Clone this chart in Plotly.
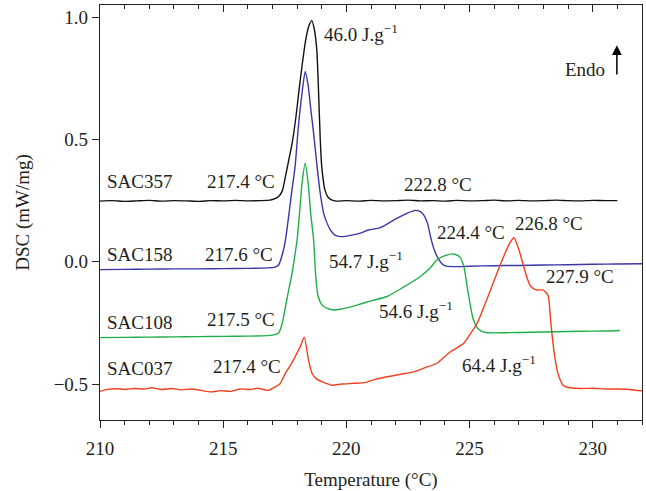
import plotly.graph_objects as go

# ---------------- data ----------------
sac357_x = [210, 210.5, 211, 211.5, 212, 212.5, 213, 213.5, 214, 214.5, 215, 215.5, 216, 216.5,
            216.9, 217.1, 217.25, 217.4, 217.53, 217.65, 217.8, 217.95, 218.08, 218.2, 218.35,
            218.48, 218.6, 218.7, 218.8, 218.87, 218.94, 219.0, 219.13, 219.25, 219.4, 219.6,
            220, 220.5, 221, 221.5, 222, 222.5, 223, 223.5, 224, 224.5, 225, 225.5, 226, 226.5,
            227, 227.5, 228, 228.5, 229, 229.5, 230, 230.5, 231]
sac357_y = [0.248, 0.250, 0.247, 0.249, 0.251, 0.248, 0.250, 0.249, 0.247, 0.250, 0.249, 0.251, 0.249, 0.250,
            0.252, 0.258, 0.267, 0.29, 0.35, 0.41, 0.485, 0.59, 0.703, 0.80, 0.907,
            0.965, 0.986, 0.95, 0.866, 0.70, 0.50, 0.39, 0.294, 0.265, 0.253, 0.248,
            0.250, 0.248, 0.251, 0.249, 0.250, 0.252, 0.249, 0.250, 0.248, 0.251, 0.249, 0.250, 0.252, 0.249,
            0.251, 0.249, 0.250, 0.252, 0.250, 0.249, 0.251, 0.250, 0.250]

sac158_x = [210, 211, 212, 213, 214, 215, 216, 216.8, 217.1, 217.25, 217.4, 217.53, 217.7, 217.8,
            217.92, 218.05, 218.2, 218.33, 218.45, 218.55, 218.67, 218.8, 218.94, 219.1, 219.35,
            219.55, 219.76, 220.0, 220.5, 220.9, 221.38, 222.0, 222.5, 222.8, 223.0, 223.15, 223.3,
            223.4, 223.5, 223.6, 223.75, 223.9, 224.05, 224.5, 225, 226, 227, 228, 229, 230, 231, 232]
sac158_y = [-0.032, -0.031, -0.030, -0.029, -0.029, -0.028, -0.027, -0.025, -0.022, -0.013, 0.03, 0.09, 0.22, 0.30,
            0.39, 0.55, 0.69, 0.778, 0.72, 0.63, 0.526, 0.40, 0.28, 0.19, 0.13,
            0.108, 0.103, 0.105, 0.115, 0.13, 0.140, 0.175, 0.200, 0.210, 0.205, 0.19, 0.155,
            0.11, 0.07, 0.04, 0.01, -0.01, -0.018, -0.020, -0.018, -0.016, -0.015, -0.013, -0.012, -0.010, -0.009, -0.008]

sac108_x = [210, 211, 212, 213, 214, 215, 216, 216.8, 217.1, 217.26, 217.4, 217.53, 217.65, 217.8,
            217.9, 218.0, 218.1, 218.2, 218.33, 218.45, 218.55, 218.67, 218.75, 218.85, 219.0,
            219.2, 219.48, 219.8, 220.5, 221.0, 221.65, 222.3, 223.0, 223.4, 223.68, 224.0, 224.36,
            224.6, 224.77, 224.9, 225.04, 225.15, 225.31, 225.5, 225.71, 226.5, 227.5, 228.5, 229.5, 230.5, 231.1]
sac108_y = [-0.310, -0.309, -0.308, -0.307, -0.306, -0.305, -0.304, -0.302, -0.298, -0.29, -0.25, -0.183, -0.12, -0.045,
            0.02, 0.09, 0.20, 0.32, 0.403, 0.32, 0.20, 0.09, -0.05, -0.14, -0.175,
            -0.19, -0.197, -0.193, -0.175, -0.16, -0.142, -0.105, -0.06, -0.025, 0.008, 0.025, 0.032,
            0.02, -0.02, -0.10, -0.183, -0.235, -0.27, -0.285, -0.290, -0.290, -0.288, -0.286, -0.284, -0.283, -0.281]

sac037_x = [210, 210.3, 210.7, 211, 211.4, 211.8, 212.1, 212.5, 212.9, 213.3, 213.7, 214.1, 214.5, 214.9,
            215.3, 215.7, 216.1, 216.4, 216.8, 217.0, 217.3, 217.53, 217.75, 217.92, 218.13, 218.29,
            218.46, 218.6, 218.8, 219.0, 219.4, 219.8, 220.3, 220.8, 221.2, 221.65, 222.2, 222.74,
            223.2, 223.68, 224.2, 224.77, 225.0, 225.31, 225.6, 225.85, 226.1, 226.33, 226.6, 226.8,
            227.0, 227.2, 227.35, 227.48, 227.7, 227.95, 228.1, 228.2, 228.3, 228.42, 228.55, 228.63,
            228.8, 228.97, 229.5, 230, 230.5, 231, 231.5, 232]
sac037_y = [-0.530, -0.522, -0.519, -0.522, -0.518, -0.520, -0.515, -0.522, -0.518, -0.524, -0.520, -0.526, -0.532, -0.527,
            -0.530, -0.520, -0.522, -0.517, -0.526, -0.518, -0.50, -0.455, -0.42, -0.388, -0.347, -0.308,
            -0.40, -0.455, -0.48, -0.49, -0.505, -0.50, -0.497, -0.493, -0.48, -0.47, -0.46, -0.45,
            -0.433, -0.415, -0.37, -0.333, -0.30, -0.251, -0.18, -0.115, -0.05, 0.008, 0.07, 0.098,
            0.05, -0.02, -0.07, -0.10, -0.115, -0.115, -0.125, -0.142, -0.25, -0.36, -0.44, -0.47,
            -0.505, -0.513, -0.518, -0.517, -0.520, -0.520, -0.522, -0.528]

series_names = ["SAC357", "SAC158", "SAC108", "SAC037"]
series_colors = ["#111111", "#3a36a6", "#1faf48", "#f0401f"]

x_ticks = [210, 215, 220, 225, 230]
y_ticks = [-0.5, 0.0, 0.5, 1.0]
y_tick_text = ["−0.5", "0.0", "0.5", "1.0"]

FONT = "Liberation Serif"
FS = 19
TXT = "#231f20"

fig = go.Figure()
for name, xs, ys, col in zip(series_names,
                             [sac357_x, sac158_x, sac108_x, sac037_x],
                             [sac357_y, sac158_y, sac108_y, sac037_y],
                             series_colors):
    fig.add_trace(go.Scatter(x=xs, y=ys, mode="lines", name=name,
                             line=dict(color=col, width=1.4, shape="spline", smoothing=0.6),
                             hoverinfo="skip", showlegend=False))

# dummy trace to activate the top (inside-tick) axis
fig.add_trace(go.Scatter(x=[210], y=[0], xaxis="x2", yaxis="y", mode="markers",
                         marker=dict(opacity=0), hoverinfo="skip", showlegend=False))

def ann(text, x, y, xanchor="left"):
    fig.add_annotation(x=x, y=y, text=text, showarrow=False, xanchor=xanchor, yanchor="middle",
                       font=dict(family=FONT, size=FS, color=TXT))

sup = "J.g<sup>−1</sup>"
ann("46.0 " + sup, 219.01, 0.935)
ann("SAC357", 210.22, 0.327)
ann("217.4 °C", 217.19, 0.327, "right")
ann("222.8 °C", 223.72, 0.318, "center")
ann("SAC158", 210.22, 0.028)
ann("217.6 °C", 217.10, 0.028, "right")
ann("224.4 °C", 223.60, 0.118)
ann("226.8 °C", 226.76, 0.155)
ann("54.7 " + sup, 219.20, 0.008)
ann("227.9 °C", 228.04, -0.06)
ann("SAC108", 210.22, -0.249)
ann("217.5 °C", 217.19, -0.238, "right")
ann("54.6 " + sup, 221.23, -0.197)
ann("SAC037", 210.22, -0.435)
ann("217.4 °C", 217.43, -0.430, "right")
ann("64.4 " + sup, 224.62, -0.416)
ann("Endo", 228.80, 0.785)
fig.add_annotation(x=230.98, y=0.885, ax=230.98, ay=0.76, xref="x", yref="y", axref="x", ayref="y",
                   text="", showarrow=True, arrowhead=2, arrowsize=1.3, arrowwidth=1.5, arrowcolor="#000")

axis_common = dict(showgrid=False, zeroline=False, linecolor="#222", linewidth=1.2,
                   tickcolor="#222", tickfont=dict(family=FONT, size=FS, color=TXT))

fig.update_layout(
    width=646, height=491,
    margin=dict(l=100, r=4, t=5, b=71),
    paper_bgcolor="white", plot_bgcolor="white",
    font=dict(family=FONT, size=FS, color=TXT),
    xaxis=dict(range=[210, 232], tickvals=x_ticks, ticks="outside", ticklen=7, tickwidth=1.2,
               showline=True, mirror=True, ticklabelstandoff=4,
               minor=dict(dtick=1, tick0=210, ticks="outside", ticklen=4, tickcolor="#222", tickwidth=1),
               title=dict(text="Temperature (°C)", font=dict(family=FONT, size=FS, color=TXT), standoff=14),
               **axis_common),
    xaxis2=dict(range=[210, 232], overlaying="x", side="top", anchor="y", matches="x",
                tickvals=x_ticks, ticks="inside", ticklen=7, tickwidth=1.2, showticklabels=False,
                showline=False, showgrid=False, zeroline=False, tickcolor="#222",
                minor=dict(dtick=1, tick0=210, ticks="inside", ticklen=4, tickcolor="#222", tickwidth=1)),
    yaxis=dict(range=[-0.647, 1.05], tickvals=y_ticks, ticktext=y_tick_text,
               ticks="outside", ticklen=7, tickwidth=1.2, showline=True, mirror=True,
               title=dict(text="DSC (mW/mg)", font=dict(family=FONT, size=FS, color=TXT), standoff=18),
               **axis_common),
)

fig.write_html("out.html")
